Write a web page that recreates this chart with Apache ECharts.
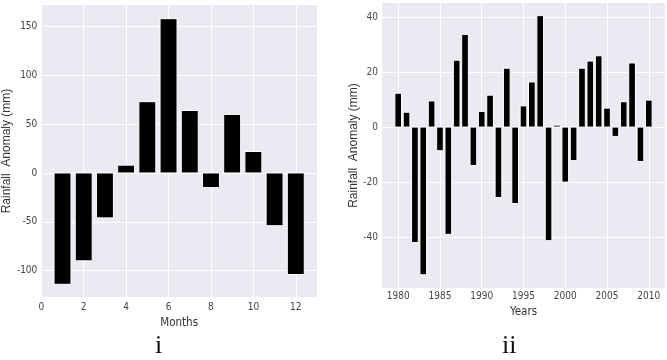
<!DOCTYPE html>
<html>
<head>
<meta charset="utf-8">
<script src="https://cdn.jsdelivr.net/npm/echarts@6/dist/echarts.min.js"></script>
<style>
html,body{margin:0;padding:0;background:#fff;}
#c{width:667px;height:360px;}
</style>
</head>
<body>
<div id="c"></div>
<script>
// ---- data ----
const months = [1,2,3,4,5,6,7,8,9,10,11,12];
const monthAnomaly = [-114,-90,-46,8,73,158,64,-15,60,22,-54,-104];
const years = [1980,1981,1982,1983,1984,1985,1986,1987,1988,1989,1990,1991,1992,1993,1994,1995,1996,1997,1998,1999,2000,2001,2002,2003,2004,2005,2006,2007,2008,2009,2010];
const yearAnomaly = [12.3,5.4,-42,-53.7,9.5,-8.6,-39,24.3,33.7,-14,5.7,11.6,-25.6,21.4,-27.8,7.7,16.4,40.5,-41.3,0.7,-20,-12.2,21.4,24,25.9,6.9,-3.4,9.2,23.3,-12.5,9.8];
const monthTicks = [0,2,4,6,8,10,12];
const monthValTicks = [-100,-50,0,50,100,150];
const yearTicks = [1980,1985,1990,1995,2000,2005,2010];
const yearValTicks = [-40,-20,0,20,40];
const yLabel = 'Rainfall  Anomaly (mm)';
const xLabel1 = 'Months';
const xLabel2 = 'Years';
const panel1 = 'i';
const panel2 = 'ii';

const narrow = '"Liberation Sans Narrow","Arial Narrow","DejaVu Sans Condensed",sans-serif';
const sans = '"Liberation Sans",Arial,sans-serif';
const bg = '#EAEAF2';

function barItem(params, api) {
  const x = api.value(0), y = api.value(1);
  const p0 = api.coord([x - 0.4, 0]);
  const p1 = api.coord([x + 0.4, y]);
  return {
    type: 'rect',
    shape: {x: p0[0], y: Math.min(p0[1], p1[1]), width: p1[0] - p0[0], height: Math.abs(p1[1] - p0[1])},
    style: {fill: '#000', stroke: '#fff', lineWidth: 1}
  };
}

function xAxisCfg(idx, min, max, ticks, name, gap, lblMargin) {
  return {
    type: 'value', gridIndex: idx, min: min, max: max,
    axisLine: {show: false},
    axisTick: {show: false, customValues: ticks},
    axisLabel: {customValues: ticks, color: '#444', fontSize: 10, fontFamily: narrow, margin: lblMargin,
                formatter: v => String(v)},
    splitLine: {show: true, lineStyle: {color: '#fff', width: 1}},
    name: name, nameLocation: 'middle', nameGap: gap,
    nameTextStyle: {color: '#333', fontSize: 11.5, fontFamily: narrow}
  };
}
function yAxisCfg(idx, min, max, ticks, gap) {
  return {
    type: 'value', gridIndex: idx, min: min, max: max,
    axisLine: {show: false},
    axisTick: {show: false, customValues: ticks},
    axisLabel: {customValues: ticks, color: '#444', fontSize: 10, fontFamily: narrow, margin: 4,
                formatter: v => String(v)},
    splitLine: {show: true, lineStyle: {color: '#fff', width: 1}},
    name: yLabel, nameLocation: 'middle', nameGap: gap, nameRotate: 90,
    nameTextStyle: {color: '#333', fontSize: 12, fontFamily: sans}
  };
}

const chart = echarts.init(document.getElementById('c'), null, {renderer: 'canvas'});
chart.setOption({
  animation: false,
  backgroundColor: '#fff',
  grid: [
    {left: 37, right: 350, top: 5, bottom: 63, show: true, backgroundColor: bg, borderWidth: 0},
    {left: 382, right: 2, top: 3, bottom: 72, show: true, backgroundColor: bg, borderWidth: 0}
  ],
  xAxis: [
    xAxisCfg(0, 0, 13, monthTicks, xLabel1, 16, 5),
    xAxisCfg(1, 1978.06, 2011.94, yearTicks, xLabel2, 15, 3)
  ],
  yAxis: [
    yAxisCfg(0, -127, 172, monthValTicks, 21),
    yAxisCfg(1, -58.5, 45.1, yearValTicks, 16)
  ],
  series: [
    {type: 'custom', xAxisIndex: 0, yAxisIndex: 0, renderItem: barItem,
     data: months.map((m, i) => [m, monthAnomaly[i]])},
    {type: 'custom', xAxisIndex: 1, yAxisIndex: 1, renderItem: barItem,
     data: years.map((y, i) => [y, yearAnomaly[i]])}
  ],
  graphic: [
    {type: 'text', left: 155, top: 333, style: {text: panel1, font: '26px "Liberation Serif","DejaVu Serif",serif', fill: '#111'}},
    {type: 'text', left: 502, top: 333, style: {text: panel2, font: '26px "Liberation Serif","DejaVu Serif",serif', fill: '#111'}}
  ]
});
</script>
</body>
</html>
